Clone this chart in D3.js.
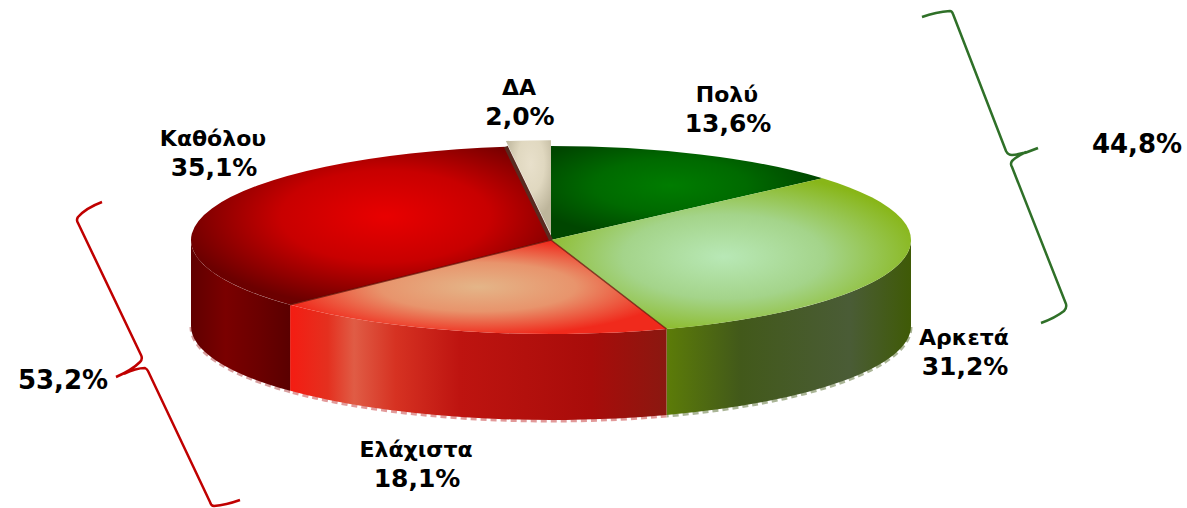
<!DOCTYPE html>
<html>
<head>
<meta charset="utf-8">
<script src="https://cdn.jsdelivr.net/npm/d3@7"></script>
<style>
  html, body { margin: 0; background: #fff; }
  svg { display: block; }
  text { font-family: "DejaVu Sans", sans-serif; font-weight: bold; fill: #000; text-anchor: middle; }
</style>
</head>
<body>
<svg></svg>
<script>
const width = 1187;
const height = 508;

// data, clockwise from 12 o'clock
const categories = ["Πολύ", "Αρκετά", "Ελάχιστα", "Καθόλου", "ΔΑ"];
const values = [13.6, 31.2, 18.1, 35.1, 2.0];
const positiveGroup = ["Πολύ", "Αρκετά"];
const negativeGroup = ["Ελάχιστα", "Καθόλου"];

// pie shape
const cx = 551, cy = 240, rx = 360, ry = 94, depth = 86;

// top face: radial centre, radius, colours
const faceStyles = {
  "Πολύ":     { fx: 0.44, fy: 0.42, r: 0.56, stops: ["#007c00", "#006a00", "#004600"] },
  "Αρκετά":   { fx: 0.48, fy: 0.52, r: 0.56, stops: ["#b8e8b6", "#a4d48a", "#88b618"] },
  "Ελάχιστα": { fx: 0.50, fy: 0.50, r: 0.52, stops: ["#e4b588", "#e8946c", "#f02a1c"] },
  "Καθόλου":  { fx: 0.54, fy: 0.44, r: 0.58, stops: ["#e80000", "#c80000", "#6c0000"] },
  "ΔΑ":       { fx: 0.55, fy: 0.25, r: 0.60, stops: ["#e8e0cb", "#e0d8c0", "#bdb59b"] }
};
// side wall: horizontal gradient
const wallStyles = {
  "Αρκετά":   { stops: [[0, "#5c7c08"], [0.3, "#42591a"], [0.75, "#4a5c36"], [1, "#3f5a06"]], rim: "#aab596" },
  "Ελάχιστα": { stops: [[0, "#f41c12"], [0.1, "#e4301f"], [0.17, "#e05c45"], [0.28, "#d63222"], [0.45, "#be1410"], [0.8, "#a80c0a"], [1, "#8a1810"]], rim: "#e29a9a" },
  "Καθόλου":  { stops: [[0, "#600000"], [0.35, "#7a0000"], [0.7, "#6a0000"], [1, "#5a0000"]], rim: "#d8a0a0" }
};
// text positions
const labelPos = {
  "Πολύ":     [727, 102],
  "Αρκετά":   [964, 345],
  "Ελάχιστα": [416, 457],
  "Καθόλου":  [213, 146],
  "ΔΑ":       [519, 95]
};

const svg = d3.select("svg")
  .attr("width", width)
  .attr("height", height);
const defs = svg.append("defs");

const slices = d3.pie().sort(null)(values).map((d, i) => ({ ...d, name: categories[i] }));
const fmt = v => d3.format(".1f")(v).replace(".", ",") + "%";
const px = a => cx + rx * Math.sin(a);
const py = a => cy - ry * Math.cos(a);

// gradients
slices.forEach((d, i) => {
  const f = faceStyles[d.name];
  const g = defs.append("radialGradient").attr("id", "face" + i)
    .attr("cx", f.fx).attr("cy", f.fy).attr("r", f.r);
  f.stops.forEach((c, j) => g.append("stop").attr("offset", j / 2).attr("stop-color", c));

  const w = wallStyles[d.name];
  if (w) {
    const lg = defs.append("linearGradient").attr("id", "wall" + i);
    w.stops.forEach(s => lg.append("stop").attr("offset", s[0]).attr("stop-color", s[1]));
  }
});

// side walls, only the front half of the ellipse shows
const wallLayer = svg.append("g");
slices.forEach((d, i) => {
  if (!wallStyles[d.name]) return;
  const a0 = Math.max(d.startAngle, Math.PI / 2);
  const a1 = Math.min(d.endAngle, Math.PI * 1.5);
  const bottomArc = `M${px(a0)},${py(a0) + depth} A${rx},${ry} 0 0,1 ${px(a1)},${py(a1) + depth}`;

  wallLayer.append("path")
    .attr("d", bottomArc)
    .attr("transform", "translate(0,1)")
    .attr("fill", "none")
    .attr("stroke", wallStyles[d.name].rim)
    .attr("stroke-width", 3)
    .attr("stroke-dasharray", "6,4");

  wallLayer.append("path")
    .attr("d", `M${px(a0)},${py(a0)} A${rx},${ry} 0 0,1 ${px(a1)},${py(a1)}`
      + ` L${px(a1)},${py(a1) + depth} A${rx},${ry} 0 0,0 ${px(a0)},${py(a0) + depth} Z`)
    .attr("fill", `url(#wall${i})`);
});

// top faces
const arc = d3.arc().innerRadius(0).outerRadius(rx);
const faces = svg.append("g")
  .attr("transform", `translate(${cx},${cy}) scale(1,${ry / rx})`);

faces.selectAll("path")
  .data(slices)
  .enter()
  .append("path")
  .attr("transform", d => d.name === "ΔΑ" ? "translate(0,-22)" : null)
  .attr("d", arc)
  .attr("fill", (d, i) => `url(#face${i})`);

// dark seams between the slices
faces.selectAll("line")
  .data(slices.filter(d => d.name !== "Πολύ" && d.name !== "Αρκετά"))
  .enter()
  .append("line")
  .attr("x2", d => rx * Math.sin(d.startAngle))
  .attr("y2", d => -rx * Math.cos(d.startAngle))
  .attr("stroke", d => d.name === "ΔΑ" ? "#5a2a20" : "#5c0c00")
  .attr("stroke-width", d => d.name === "ΔΑ" ? 4 : 1.5)
  .attr("stroke-opacity", d => d.name === "ΔΑ" ? 1 : 0.7)
  .attr("vector-effect", "non-scaling-stroke");

// labels
const names = svg.append("g").style("font-size", "22px");
const shares = svg.append("g").style("font-size", "25px");
slices.forEach(d => {
  const [x, y] = labelPos[d.name];
  names.append("text").attr("x", x).attr("y", y).text(d.name);
  shares.append("text").attr("x", x + 1).attr("y", y + 30).text(fmt(d.value));
});

// group totals with their braces
const total = group => d3.sum(group, n => values[categories.indexOf(n)]);
const brace = svg.append("g").attr("fill", "none").attr("stroke-width", 2.5).attr("stroke-linejoin", "round");

brace.append("path")
  .attr("stroke", "#c00000")
  .attr("d", "M102,202 Q86,208 78,217 Q76,220 78,223 L141,355 Q143,359 140,362 Q132,370 116,377 "
    + "M124,374 Q136,368 145,368 Q147,369 148,371 L210,502 Q211,506 214,506 Q226,505 240,500");

brace.append("path")
  .attr("stroke", "#2f7028")
  .attr("d", "M922,17 Q936,12 950,11 Q952,11 953,14 L1006,151 Q1008,155 1012,155 Q1025,154 1038,148 "
    + "M1026,152 Q1017,156 1012,161 Q1010,164 1012,167 L1066,304 Q1067,308 1064,311 Q1055,318 1041,323");

const totals = svg.append("g").style("font-size", "26px");
totals.append("text").attr("x", 63).attr("y", 389).text(fmt(total(negativeGroup)));
totals.append("text").attr("x", 1137).attr("y", 153).text(fmt(total(positiveGroup)));
</script>
</body>
</html>
